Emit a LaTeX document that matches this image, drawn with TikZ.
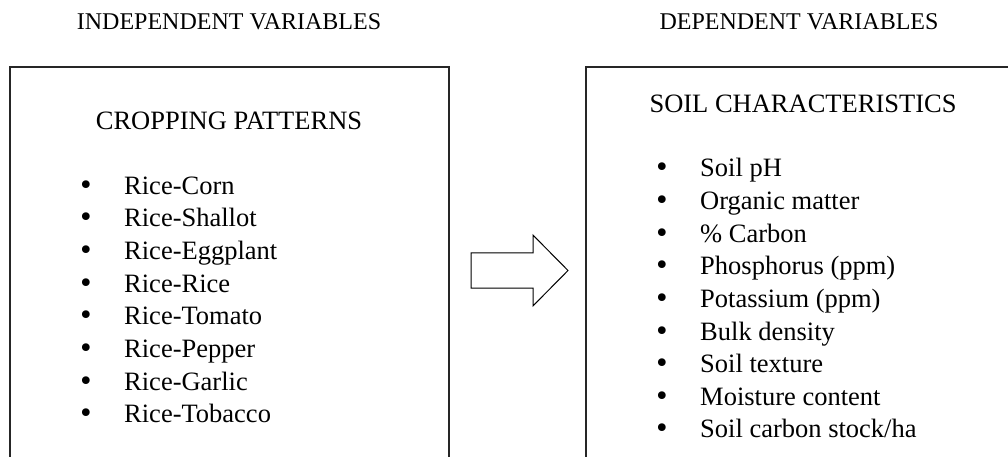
\documentclass[tikz,border=0pt]{standalone}
\usepackage{fontspec}
\setmainfont{Liberation Serif}
\newfontfamily\dotfont{DejaVu Sans}
\usepackage{xcolor}
\usepackage{tikz}
\usetikzlibrary{positioning}
\tikzstyle{panel} = [rectangle, draw=black!85, line width=1.3pt, inner sep=0pt]
\tikzstyle{header} = [font=\fontsize{24}{29}\selectfont, inner sep=0pt]
\tikzstyle{title} = [font=\fontsize{26.5}{32}\selectfont, inner sep=0pt]
\tikzstyle{item} = [font=\fontsize{26.5}{32}\selectfont, inner sep=0pt, anchor=base west]
\tikzstyle{bigarrow} = [draw=black, line width=1pt, fill=white]
\newcommand{\bul}[1]{\makebox[46pt][l]{{\dotfont •}}#1}

\begin{document}
\begin{tikzpicture}[x=1pt, y=-1pt]
    \useasboundingbox (0,0) rectangle (1008,457);
    \clip (0,0) rectangle (1008,457);
    % Boxes
    \node[panel, minimum width=439pt, minimum height=433pt] (crops) at (229.5,283.5) {};
    \node[panel, minimum width=426pt, minimum height=433pt] (soil) at (799,283.5) {};

    % Headers
    \node[header, anchor=base] (indep) at (229,30) {INDEPENDENT VARIABLES};
    \node[header, anchor=base] (dep) at (799,30) {DEPENDENT VARIABLES};
    \node[title, anchor=base] (croptitle) at (229,130) {CROPPING PATTERNS};
    \node[title, anchor=base] (soiltitle) at (803,113) {SOIL CHARACTERISTICS};

    % Lists
    \foreach \txt [count=\i from 0] in {Rice-Corn, Rice-Shallot, Rice-Eggplant, Rice-Rice, Rice-Tomato, Rice-Pepper, Rice-Garlic, Rice-Tobacco}
        \node[item] (crop\i) at (78,{194+32.7*\i}) {\bul{\txt}};
    \foreach \txt [count=\i from 0] in {Soil pH, Organic matter, {\% Carbon}, Phosphorus (ppm), Potassium (ppm), Bulk density, Soil texture, Moisture content, Soil carbon stock/ha}
        \node[item] (prop\i) at (654,{177+32.6*\i}) {\bul{\txt}};

    % Arrow
    \coordinate (tail) at (471,270.5);
    \draw[bigarrow] (tail) ++(0,-17.7) -- ++(62,0) -- ++(0,-17.7) -- ++(35,35.4) -- ++(-35,35.4) -- ++(0,-17.7) -- ++(-62,0) -- cycle;
\end{tikzpicture}
\end{document}
